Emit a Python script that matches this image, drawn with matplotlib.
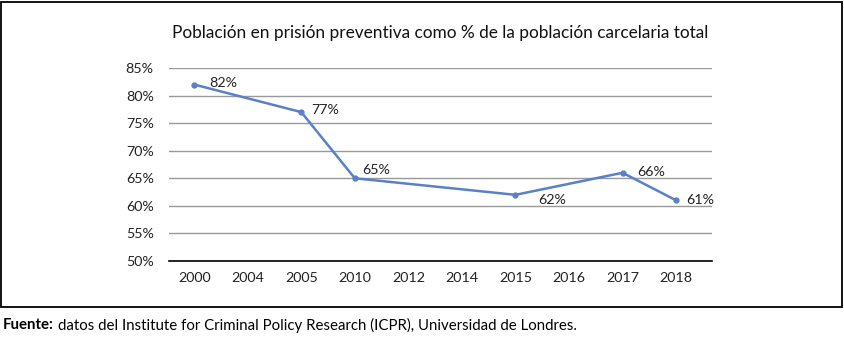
import numpy as np
import matplotlib
matplotlib.use("Agg")
import matplotlib.pyplot as plt
from matplotlib.patches import Rectangle

# data (Excel-style: empty years are skipped by the line)
years = ["2000", "2004", "2005", "2010", "2012", "2014", "2015", "2016", "2017", "2018"]
pct = [82, np.nan, 77, 65, np.nan, np.nan, 62, np.nan, 66, 61]
yticks = [50, 55, 60, 65, 70, 75, 80, 85]

plt.rcParams["font.family"] = ["Lato", "DejaVu Sans"]
LINE = "#5A80C8"

fig = plt.figure(figsize=(8.45, 3.38), dpi=100)
fig.patches.append(Rectangle((1.5 / 845, 31 / 338), 841 / 845, 305 / 338,
                             transform=fig.transFigure, fill=False,
                             edgecolor="black", linewidth=1.3))

ax = fig.add_axes([169 / 845, 77 / 338, 543 / 845, 193 / 338])
x = np.arange(len(years))
vals = np.array(pct, dtype=float)
m = ~np.isnan(vals)
ax.plot(x[m], vals[m], color=LINE, linewidth=1.8, marker="o", markersize=3.5)

# label offsets (points)
offs = {0: (10.5, 1.4), 2: (7, 1.4), 3: (5, 5.8), 6: (16.5, -3.6),
        8: (10.5, 0.7), 9: (7, 0)}
for i in x[m]:
    dx, dy = offs[i]
    ax.annotate(f"{int(vals[i])}%", (i, vals[i]), xytext=(dx, dy),
                textcoords="offset points", ha="left", va="center",
                fontsize=10.3, color="#222222")

ax.set_xlim(-0.47, len(years) - 1 + 0.67)
ax.set_ylim(50, 85)
ax.set_xticks(x)
ax.set_xticklabels(years)
ax.set_yticks(yticks)
ax.set_yticklabels([f"{v}%" for v in yticks])
ax.tick_params(length=0, labelsize=10.3, colors="#222222")
ax.tick_params(axis="x", pad=8)
ax.tick_params(axis="y", pad=11)
ax.grid(axis="y", color="#999999", linewidth=1)
ax.set_axisbelow(True)
for s in ["top", "right", "left"]:
    ax.spines[s].set_visible(False)
ax.spines["bottom"].set_color("black")
ax.spines["bottom"].set_linewidth(1.2)

fig.text(440 / 845, 1 - 33 / 338,
         "Población en prisión preventiva como % de la población carcelaria total",
         ha="center", va="center", fontsize=12.4, color="#111111")

# footnote, bold lead-in + regular text
t1 = fig.text(3 / 845, 1 - 325 / 338, "Fuente:", fontweight="bold",
              fontsize=10.8, ha="left", va="center")
fig.canvas.draw()
bb = t1.get_window_extent()
fig.text((bb.x1 + 4) / 845, 1 - 325 / 338,
         "datos del Institute for Criminal Policy Research (ICPR), Universidad de Londres.",
         fontsize=10.8, ha="left", va="center")

fig.savefig("out.png", dpi=100)
